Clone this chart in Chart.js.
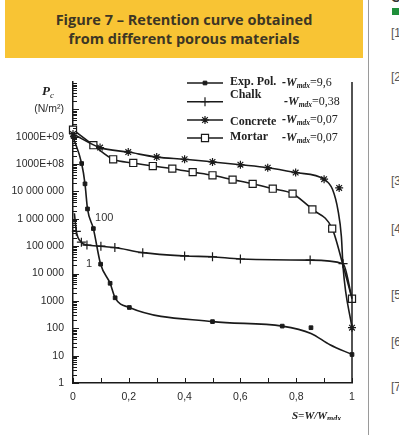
<!DOCTYPE html>
<html><head><meta charset="utf-8">
<script src="https://cdn.jsdelivr.net/npm/chart.js@4.4.0/dist/chart.umd.min.js"></script>
<style>
html,body{margin:0;padding:0;width:399px;height:435px;overflow:hidden;background:#fff;position:relative;}
#hdr{position:absolute;left:5px;top:0;width:358px;height:58px;background:#F8C434;color:#3d3624;font:bold 14.5px "Open Sans",sans-serif;text-align:center;line-height:19px;padding-top:10px;box-sizing:border-box;}
#vline{position:absolute;left:368px;top:0;width:1px;height:435px;background:#9a9a9a;}
.ref{position:absolute;left:391px;color:#555;font:12px "Liberation Sans",sans-serif;line-height:14px;}
#gsq{position:absolute;left:392px;top:8px;width:8px;height:7px;background:#1f8f3a;}
#ctop{position:absolute;left:391px;top:-10px;color:#333;font:bold 13px "Liberation Sans",sans-serif;}
#cv{position:absolute;left:0;top:60px;}
</style></head><body>
<div id="hdr">Figure 7 – Retention curve obtained<br>from different porous materials</div>
<div id="vline"></div>
<div id="ctop">C</div>
<div id="gsq"></div>
<div class="ref" style="top:26px">[1</div>
<div class="ref" style="top:70px">[2</div>
<div class="ref" style="top:174px">[3</div>
<div class="ref" style="top:222px">[4</div>
<div class="ref" style="top:288px">[5</div>
<div class="ref" style="top:335px">[6</div>
<div class="ref" style="top:380px">[7</div>
<canvas id="cv" width="368" height="360"></canvas>
<script>
// ---- data (S = W/Wmax, Pc in N/m2) ----
const seriesNames = ['Exp. Pol.', 'Chalk', 'Concrete', 'Mortar'];
const seriesWmax = ['=9,6', '=0,38', '=0,07', '=0,07'];

const expPolS = [0, 0.031, 0.043, 0.052, 0.073, 0.099, 0.133, 0.151, 0.202, 0.5, 0.75, 0.853, 0.921, 1.0];
const expPolP = [1.0e9, 1.05e8, 1.9e7, 2.3e6, 4.4e5, 2.2e4, 4.4e3, 1.3e3, 575, 175, 120, 65, 25, 11];
const expPolStrayS = [0.853];
const expPolStrayP = [105];

const chalkS = [0.005, 0.012, 0.03, 0.05, 0.1, 0.15, 0.25, 0.4, 0.5, 0.6, 0.85, 0.968, 1.0];
const chalkP = [1.6e6, 3.5e5, 1.4e5, 1.1e5, 1.0e5, 8.9e4, 5.8e4, 4.4e4, 4.1e4, 3.4e4, 3.1e4, 2.3e4, 1.2e3];

const concreteS = [0, 0.097, 0.198, 0.3, 0.4, 0.5, 0.6, 0.698, 0.798, 0.9, 0.93, 0.95, 0.962, 0.968, 1.0];
const concreteP = [1.26e9, 4.0e8, 2.75e8, 1.8e8, 1.5e8, 1.2e8, 9.5e7, 7.4e7, 4.9e7, 2.8e7, 1.2e7, 2.0e6, 2.2e5, 1.7e4, 105];
const concreteStrayS = [0.954];
const concreteStrayP = [1.35e7];

const mortarS = [0, 0.073, 0.144, 0.216, 0.286, 0.356, 0.429, 0.5, 0.572, 0.644, 0.716, 0.787, 0.858, 0.929, 0.969, 1.0];
const mortarP = [1.8e9, 4.9e8, 1.5e8, 1.1e8, 8.5e7, 6.8e7, 5.1e7, 3.9e7, 2.7e7, 1.9e7, 1.26e7, 8.3e6, 2.2e6, 4.4e5, 1.8e4, 1.2e3];

const yTickValues = [1, 10, 100, 1000, 1e4, 1e5, 1e6, 1e7, 1e8, 1e9, 1e10];
const yTickLabels = ['1', '10', '100', '1000', '10 000', '100 000', '1 000 000', '10 000 000', '1000E+08', '1000E+09', '(N/m²)'];
const xTickValues = [0, 0.2, 0.4, 0.6, 0.8, 1];
const xTickLabels = ['0', '0,2', '0,4', '0,6', '0,8', '1'];
const annotations = [{text: '100', s: 0.079, p: 1.05e6}, {text: '1', s: 0.047, p: 2.2e4}];

const INK = '#1a1a1a';
const pts = (xs, ys) => xs.map((x, i) => ({x: x, y: ys[i]}));
const radii = (n, r, hidden) => Array.from({length: n}, (_, i) => hidden.includes(i) ? 0 : r);

const styles = [
  {pointStyle: 'rect', radius: 2.6, bg: INK, bw: 1},
  {pointStyle: 'cross', radius: 4.5, bg: INK, bw: 1.2},
  {pointStyle: 'star', radius: 4, bg: INK, bw: 1.2},
  {pointStyle: 'rect', radius: 5, bg: '#fff', bw: 1.2}
];

function lineDs(xs, ys, st, hidden) {
  return {
    data: pts(xs, ys), borderColor: INK, borderWidth: 1.6, fill: false,
    cubicInterpolationMode: 'monotone', clip: false,
    pointStyle: st.pointStyle, pointRadius: radii(xs.length, st.radius, hidden),
    pointBorderColor: INK, pointBackgroundColor: st.bg, pointBorderWidth: st.bw
  };
}
function strayDs(xs, ys, st) {
  return {
    data: pts(xs, ys), showLine: false, clip: false,
    pointStyle: st.pointStyle, pointRadius: st.radius,
    pointBorderColor: INK, pointBackgroundColor: st.bg, pointBorderWidth: st.bw
  };
}

const datasets = [
  lineDs(expPolS, expPolP, styles[0], [11, 12]),
  lineDs(chalkS, chalkP, styles[1], [0, 12]),
  lineDs(concreteS, concreteP, styles[2], [10, 11, 12, 13]),
  lineDs(mortarS, mortarP, styles[3], [14]),
  strayDs(expPolStrayS, expPolStrayP, styles[0]),
  strayDs(concreteStrayS, concreteStrayP, styles[2])
];

function drawMarker(ctx, st, x, y) {
  ctx.save();
  ctx.strokeStyle = INK; ctx.fillStyle = st.bg; ctx.lineWidth = st.bw;
  const r = st.radius;
  ctx.beginPath();
  if (st.pointStyle === 'rect') {
    const s = Math.SQRT1_2 * r;
    ctx.rect(x - s, y - s, 2 * s, 2 * s); ctx.fill(); ctx.stroke();
  } else if (st.pointStyle === 'cross') {
    ctx.moveTo(x - r, y); ctx.lineTo(x + r, y); ctx.moveTo(x, y - r); ctx.lineTo(x, y + r); ctx.stroke();
  } else {
    for (let a = 0; a < 4; a++) {
      const ang = a * Math.PI / 4;
      ctx.moveTo(x - r * Math.cos(ang), y - r * Math.sin(ang));
      ctx.lineTo(x + r * Math.cos(ang), y + r * Math.sin(ang));
    }
    ctx.stroke();
  }
  ctx.restore();
}

const decor = {
  id: 'decor',
  afterDraw(chart) {
    const ctx = chart.ctx, xs = chart.scales.x, ys = chart.scales.y, a = chart.chartArea;
    ctx.save();
    ctx.strokeStyle = INK; ctx.lineWidth = 1.5;
    // right boundary at S = 1
    const xr = xs.getPixelForValue(1);
    ctx.beginPath(); ctx.moveTo(xr, a.top); ctx.lineTo(xr, a.bottom); ctx.stroke();
    // y ticks (inside)
    ctx.lineWidth = 1;
    const xl = xs.getPixelForValue(0);
    for (let k = 0; k <= 10; k++) {
      for (let m = 1; m <= 9; m++) {
        const py = Math.round(ys.getPixelForValue(m * Math.pow(10, k))) + 0.5;
        const len = m === 1 ? 6 : 4;
        ctx.beginPath(); ctx.moveTo(xl, py); ctx.lineTo(xl + len, py); ctx.stroke();
      }
    }
    // x ticks (inside)
    for (let i = 0; i <= 10; i++) {
      const px = Math.round(xs.getPixelForValue(i / 10)) + 0.5;
      ctx.beginPath(); ctx.moveTo(px, a.bottom); ctx.lineTo(px, a.bottom - 5); ctx.stroke();
    }
    // Pc label
    ctx.fillStyle = '#222'; ctx.textBaseline = 'alphabetic';
    ctx.font = 'italic bold 13px "Liberation Serif"';
    ctx.fillText('P', 42, 35);
    ctx.font = 'italic 9px "Liberation Serif"';
    ctx.fillText('c', 50, 38);
    // x title
    ctx.font = 'italic bold 11px "Liberation Serif"';
    let tx = 292; const ty = 359;
    ctx.fillText('S=W/W', tx, ty);
    tx += ctx.measureText('S=W/W').width;
    ctx.font = 'italic bold 8px "Liberation Serif"';
    ctx.fillText('mdx', tx, ty + 2);
    // annotations
    ctx.font = '11px "Liberation Sans"'; ctx.textBaseline = 'middle'; ctx.fillStyle = '#333';
    annotations.forEach(an => ctx.fillText(an.text, xs.getPixelForValue(an.s), ys.getPixelForValue(an.p)));
    // legend
    const rowsLine = [23, 41.7, 60, 78];
    const rowsName = [22, 35, 62, 77];
    const rowsW = [23, 41.7, 60, 78];
    const wx = [282, 284, 282, 282];
    for (let i = 0; i < 4; i++) {
      ctx.strokeStyle = INK; ctx.lineWidth = 1.5;
      ctx.beginPath(); ctx.moveTo(187, rowsLine[i]); ctx.lineTo(223, rowsLine[i]); ctx.stroke();
      drawMarker(ctx, styles[i], 205, rowsLine[i]);
      ctx.fillStyle = '#222'; ctx.textBaseline = 'middle';
      ctx.font = 'bold 12px "Liberation Serif"';
      ctx.fillText(seriesNames[i], 230, rowsName[i]);
      let x = wx[i];
      ctx.font = 'italic bold 12px "Liberation Serif"';
      ctx.fillText('-W', x, rowsW[i]); x += ctx.measureText('-W').width;
      ctx.font = 'italic bold 7.5px "Liberation Serif"';
      ctx.fillText('mdx', x, rowsW[i] + 3); x += ctx.measureText('mdx').width;
      ctx.font = '12px "Liberation Serif"';
      ctx.fillText(seriesWmax[i], x, rowsW[i]);
    }
    ctx.restore();
  }
};

new Chart(document.getElementById('cv'), {
  type: 'line',
  data: {datasets: datasets},
  options: {
    responsive: false, animation: false,
    layout: {padding: {top: 22, right: 16, bottom: 0, left: 0}},
    plugins: {legend: {display: false}, tooltip: {enabled: false}},
    scales: {
      x: {
        type: 'linear', min: 0, max: 1,
        afterBuildTicks: s => { s.ticks = xTickValues.map(v => ({value: v})); },
        afterFit: s => { s.height = 37; },
        grid: {display: false, drawTicks: false},
        border: {display: true, color: INK, width: 1.5},
        ticks: {autoSkip: false, maxRotation: 0, padding: 8, color: '#2a2a2a',
          font: {family: 'Liberation Sans', size: 10.5},
          callback: (v, i) => xTickLabels[i]}
      },
      y: {
        type: 'logarithmic', min: 1, max: 1e11,
        afterBuildTicks: s => { s.ticks = yTickValues.map(v => ({value: v})); },
        afterFit: s => { s.width = 73; },
        grid: {display: false, drawTicks: false},
        border: {display: true, color: INK, width: 1.5},
        ticks: {autoSkip: false, padding: 9, color: '#2a2a2a',
          font: {family: 'Liberation Sans', size: 10.5},
          callback: (v, i) => yTickLabels[i]}
      }
    }
  },
  plugins: [decor]
});
</script>
</body></html>
